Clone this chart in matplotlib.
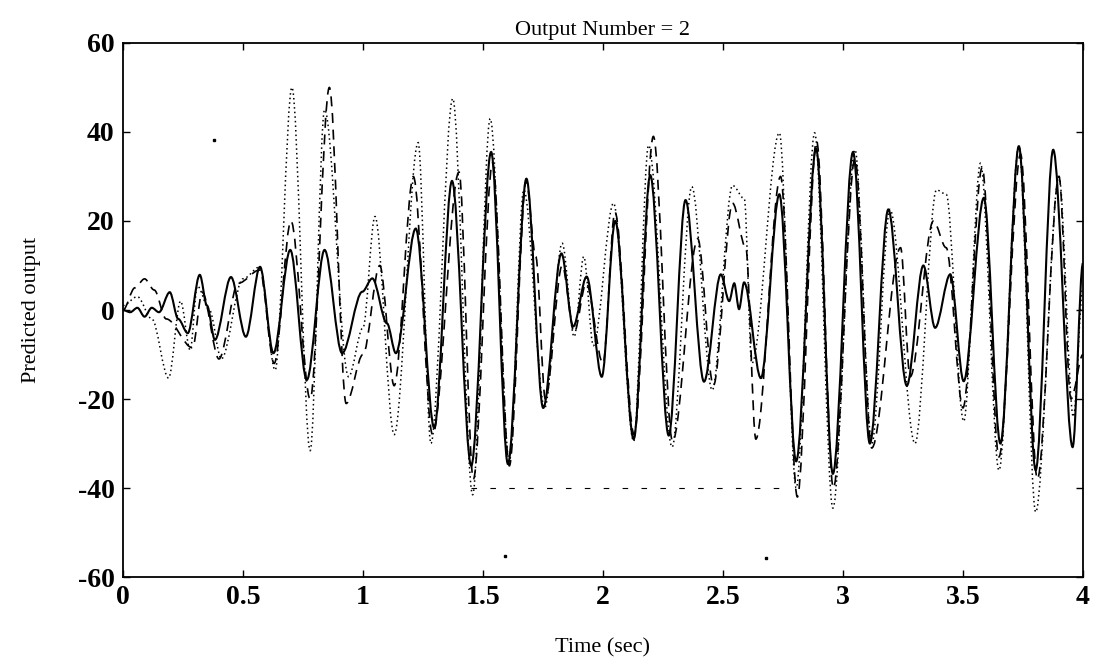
import matplotlib
matplotlib.use("Agg")
import matplotlib.pyplot as plt
from matplotlib.path import Path
from matplotlib.patches import PathPatch

# ---------------- data ----------------
solid_t = [0.00, 0.03, 0.06, 0.09, 0.12, 0.15, 0.195, 0.23, 0.27, 0.32, 0.35, 0.383,
           0.45, 0.512, 0.571, 0.627, 0.697, 0.766, 0.840, 0.913, 0.997, 1.039,
           1.10, 1.137, 1.220, 1.297, 1.371, 1.451, 1.534, 1.604, 1.681, 1.751,
           1.827, 1.876, 1.932, 1.995, 2.051, 2.128, 2.197, 2.274, 2.344, 2.421,
           2.491, 2.526, 2.547, 2.567, 2.588, 2.658, 2.735, 2.805, 2.888, 2.958,
           3.042, 3.112, 3.189, 3.266, 3.335, 3.384, 3.447, 3.503, 3.587, 3.656,
           3.733, 3.803, 3.876, 3.957, 4.00]
solid_v = [0.0, -0.5, 0.5, -1.5, 0.5, -0.5, 4.0, -2.0, -5.2, 7.9, 1.0, -6.7,
           7.4, -6.0, 9.7, -9.7, 13.5, -15.7, 13.5, -9.7, 4.1, 7.1,
           -3.0, -9.7, 18.3, -26.5, 29.0, -35.0, 35.5, -34.6, 29.5, -22.0,
           12.7, -3.7, 7.5, -15.0, 20.0, -29.0, 30.3, -28.2, 24.7, -16.1,
           8.0, 2.0, 6.0, 0.2, 6.2, -15.3, 26.0, -34.0, 36.3, -36.8,
           35.5, -30.0, 22.6, -17.0, 10.0, -4.0, 8.0, -16.0, 25.2, -30.0,
           36.8, -36.0, 36.0, -30.8, 10.5]

dashed_t = [0.00, 0.05, 0.09, 0.13, 0.18, 0.29, 0.33, 0.40, 0.48, 0.57, 0.63,
            0.70, 0.78, 0.86, 0.93, 1.00, 1.07, 1.13, 1.21, 1.29, 1.40, 1.46,
            1.54, 1.61, 1.68, 1.72, 1.76, 1.83, 1.88, 1.93, 2.00, 2.05, 2.13,
            2.21, 2.29, 2.395, 2.46, 2.54, 2.595, 2.637, 2.74, 2.81, 2.89,
            2.96, 3.05, 3.12, 3.24, 3.28, 3.377, 3.43, 3.50, 3.58, 3.65, 3.74,
            3.81, 3.90, 3.95, 4.00]
dashed_v = [0.0, 5.0, 7.0, 4.5, -2.0, -8.5, 4.0, -11.0, 6.0, 9.0, -12.0,
            20.0, -20.0, 50.0, -21.0, -10.0, 10.0, -17.0, 30.0, -28.0, 31.0, -38.0,
            33.0, -35.0, 29.0, 12.0, -20.0, 10.0, -5.0, 6.0, -12.0, 22.0, -28.0,
            39.0, -29.5, 16.0, -17.0, 24.0, 14.0, -29.0, 30.0, -42.0, 38.0,
            -40.0, 34.0, -31.0, 14.0, -15.0, 20.0, 14.0, -22.0, 32.0, -33.0, 35.0,
            -38.0, 30.0, -20.0, -10.0]

dotted_t = [0.00, 0.06, 0.12, 0.19, 0.24, 0.28, 0.31, 0.36, 0.41, 0.50, 0.571,
            0.634, 0.704, 0.78, 0.84, 0.94, 1.00, 1.05, 1.13, 1.23, 1.283, 1.374,
            1.457, 1.53, 1.61, 1.67, 1.757, 1.83, 1.88, 1.92, 1.96, 2.044, 2.128,
            2.19, 2.288, 2.37, 2.455, 2.54, 2.589, 2.62, 2.735, 2.805, 2.882,
            2.958, 3.05, 3.12, 3.196, 3.30, 3.39, 3.43, 3.503, 3.573, 3.65,
            3.733, 3.803, 3.90, 3.96, 4.00]
dotted_v = [1.0, 3.0, -2.0, -15.3, 2.0, -9.0, 5.4, 0.0, -11.0, 7.0, 9.7,
            -13.5, 50.0, -31.6, 45.0, -15.0, -4.0, 21.0, -28.0, 37.6, -30.0, 47.5,
            -41.5, 43.0, -34.0, 27.0, -22.0, 15.0, -6.0, 12.0, -8.0, 24.0, -29.5,
            37.0, -30.8, 27.7, -18.0, 28.0, 25.0, -12.0, 39.8, -40.0, 39.8,
            -44.5, 36.0, -30.0, 22.6, -30.0, 27.0, 26.0, -25.0, 33.0, -36.0,
            36.8, -45.4, 30.0, -24.0, 5.0]

# horizontal dashed level seen between 1.45 s and 2.75 s
level_t = [1.45, 2.75]
level_v = [-40.0, -40.0]

# isolated stray dots
stray_t = [0.379, 1.59, 2.68]
stray_v = [38.2, -55.3, -55.7]

title = "Output Number = 2"
xlabel = "Time (sec)"
ylabel = "Predicted output"
xticks = [0, 0.5, 1, 1.5, 2, 2.5, 3, 3.5, 4]
xticklabels = ["0", "0.5", "1", "1.5", "2", "2.5", "3", "3.5", "4"]
yticks = [-60, -40, -20, 0, 20, 40, 60]
yticklabels = ["-60", "-40", "-20", "0", "20", "40", "60"]


def smooth_curve(ax, ts, vs, **kw):
    """Smooth curve through the read points (horizontal tangents at each point)."""
    verts = [(ts[0], vs[0])]
    codes = [Path.MOVETO]
    for i in range(len(ts) - 1):
        d = ts[i + 1] - ts[i]
        verts += [(ts[i] + 0.33 * d, vs[i]), (ts[i + 1] - 0.33 * d, vs[i + 1]),
                  (ts[i + 1], vs[i + 1])]
        codes += [Path.CURVE4] * 3
    patch = PathPatch(Path(verts, codes), fill=False, transform=ax.transData, **kw)
    ax.add_patch(patch)


# ---------------- drawing ----------------
plt.rcParams['font.family'] = ['Liberation Serif', 'DejaVu Serif']
fig = plt.figure(figsize=(10.98, 6.71), dpi=100)
ax = fig.add_axes([0.112, 0.14, 0.8743, 0.796])

smooth_curve(ax, dotted_t, dotted_v, edgecolor='black', linestyle=(0, (1, 2)), linewidth=1.1)
smooth_curve(ax, dashed_t, dashed_v, edgecolor='black', linestyle=(0, (6, 4)), linewidth=1.2)
smooth_curve(ax, solid_t, solid_v, edgecolor='black', linestyle='-', linewidth=1.5)
ax.plot(level_t, level_v, color='black', linestyle=(0, (5, 12)), linewidth=0.8)
ax.plot(stray_t, stray_v, linestyle='none', marker='s', markersize=1.5, color='black')

ax.set_xlim(0, 4)
ax.set_ylim(-60, 60)
ax.set_xticks(xticks)
ax.set_xticklabels(xticklabels)
ax.set_yticks(yticks)
ax.set_yticklabels(yticklabels)
ax.tick_params(direction='in', length=5, width=1, top=True, right=True,
               labelsize=20, pad=6)
for lab in ax.get_xticklabels() + ax.get_yticklabels():
    lab.set_fontweight('bold')
for s in ax.spines.values():
    s.set_linewidth(1.3)

ax.set_title(title, fontsize=16, pad=6)
ax.set_xlabel(xlabel, fontsize=16)
ax.set_ylabel(ylabel, fontsize=16)
ax.xaxis.set_label_coords(0.5, -0.115)
ax.yaxis.set_label_coords(-0.085, 0.5)

fig.savefig("out.png", dpi=100)
